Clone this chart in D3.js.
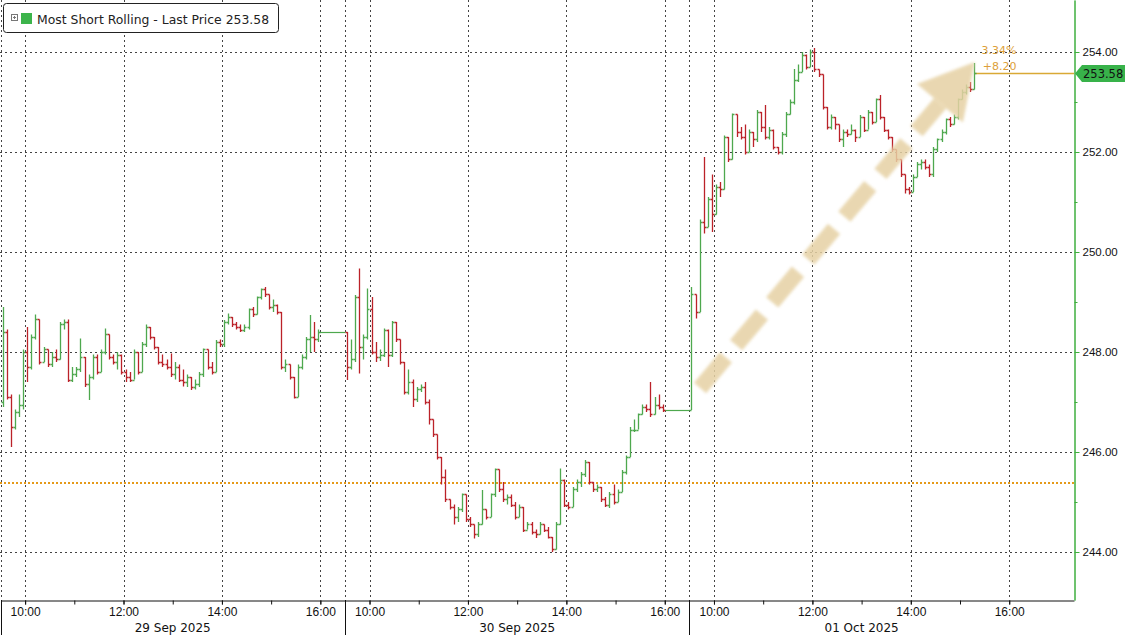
<!DOCTYPE html>
<html>
<head>
<meta charset="utf-8">
<script src="https://cdn.jsdelivr.net/npm/d3@7"></script>
<style>
  body { margin: 0; background: #fff; }
  svg { display: block; font-family: "DejaVu Sans", Verdana, sans-serif; }
</style>
</head>
<body>
<div id="chart"></div>
<script>
// ---- data (5 minute bars, open = previous close) ----
const sessionDates = ["29 Sep 2025", "30 Sep 2025", "01 Oct 2025"];
const hourLabels = ["10:00", "12:00", "14:00", "16:00"];
const priceTicks = [244, 246, 248, 250, 252, 254];
const minorPriceTicks = [245, 247, 249, 251, 253];
const seriesName = "Most Short Rolling - Last Price";
const lastPrice = 253.58;
const refPrice = 245.38;
const changePct = "3.34%";
const changeAbs = "+8.20";
const sessionOpen = [247.00, 248.40, 246.84];

const close29 = [248.40, 247.10, 246.50, 246.80, 246.95, 248.00, 247.70, 248.30, 248.65, 247.80,
  248.05, 247.75, 247.90, 247.85, 248.55, 248.60, 247.45, 247.55, 247.65, 247.90,
  247.35, 247.50, 247.90, 247.60, 248.00, 248.35, 247.90, 247.80, 247.95, 247.60,
  247.50, 247.45, 248.00, 247.60, 248.15, 248.50, 248.30, 248.10, 247.80, 247.75,
  247.70, 247.55, 247.70, 247.45, 247.40, 247.50, 247.30, 247.35, 247.55, 248.05,
  247.70, 247.60, 248.20, 248.15, 248.60, 248.70, 248.55, 248.50, 248.45, 248.50,
  248.85, 248.75, 249.10, 249.25, 249.15, 248.90, 248.95, 248.80, 247.70, 247.75,
  247.50, 247.10, 247.70, 247.90, 248.25, 248.30, 248.25, 248.40];
const high29 = [248.90, 248.45, 247.15, 246.85, 247.15, 248.05, 248.50, 248.35, 248.75, 248.65,
  248.10, 248.05, 248.00, 248.05, 248.60, 248.65, 248.65, 247.70, 247.70, 248.27,
  247.90, 247.55, 247.95, 247.95, 248.05, 248.47, 248.35, 247.95, 248.00, 247.95,
  247.65, 247.60, 248.05, 248.00, 248.20, 248.55, 248.50, 248.30, 248.10, 247.95,
  247.85, 247.97, 247.80, 247.75, 247.65, 247.55, 247.50, 247.45, 247.60, 248.07,
  248.05, 247.80, 248.24, 248.25, 248.64, 248.77, 248.70, 248.60, 248.55, 248.55,
  248.87, 248.90, 249.11, 249.27, 249.30, 249.15, 249.05, 248.95, 248.80, 247.85,
  247.75, 247.50, 247.75, 247.95, 248.30, 248.74, 248.60, 248.45];
const low29 = [246.90, 247.05, 246.10, 246.45, 246.70, 246.85, 247.40, 247.65, 248.25, 247.75,
  247.80, 247.70, 247.70, 247.80, 247.85, 248.45, 247.40, 247.40, 247.50, 247.60,
  247.30, 247.04, 247.45, 247.55, 247.60, 247.95, 247.85, 247.75, 247.65, 247.55,
  247.40, 247.40, 247.45, 247.55, 247.60, 248.10, 248.25, 248.05, 247.75, 247.70,
  247.65, 247.50, 247.45, 247.40, 247.31, 247.30, 247.24, 247.25, 247.30, 247.50,
  247.65, 247.55, 247.60, 248.10, 248.10, 248.55, 248.50, 248.45, 248.40, 248.40,
  248.45, 248.70, 248.75, 249.05, 249.10, 248.85, 248.80, 248.75, 247.65, 247.60,
  247.45, 247.07, 247.10, 247.65, 247.85, 248.00, 248.00, 248.20];

const close30 = [247.70, 247.85, 249.10, 248.10, 248.30, 248.85, 248.00, 247.90, 247.95, 248.45,
  247.95, 248.60, 248.25, 247.80, 247.20, 247.40, 247.05, 247.25, 247.30, 247.00,
  246.65, 246.35, 245.90, 245.50, 245.05, 244.90, 244.70, 244.85, 245.15, 244.65,
  244.55, 244.35, 244.55, 244.85, 244.70, 245.15, 245.65, 245.25, 245.05, 245.10,
  244.95, 244.70, 244.90, 244.45, 244.55, 244.40, 244.35, 244.55, 244.45, 244.30,
  244.05, 244.55, 245.45, 244.95, 244.90, 245.25, 245.40, 245.55, 245.80, 245.40,
  245.25, 245.30, 245.05, 244.95, 245.15, 245.00, 245.20, 245.60, 245.90, 246.45,
  246.45, 246.75, 246.90, 246.85, 246.75, 246.95, 246.90, 246.84];
const high30 = [248.40, 248.25, 249.14, 249.67, 248.35, 249.27, 249.10, 248.20, 248.05, 248.47,
  248.45, 248.62, 248.60, 248.25, 247.80, 247.65, 247.45, 247.30, 247.35, 247.40,
  247.05, 246.65, 246.35, 245.90, 245.65, 245.05, 244.95, 244.90, 245.17, 245.15,
  244.70, 244.55, 244.60, 245.24, 244.85, 245.17, 245.67, 245.65, 245.40, 245.15,
  245.15, 245.00, 244.95, 244.90, 244.60, 244.60, 244.45, 244.60, 244.55, 244.50,
  244.30, 244.60, 245.67, 245.45, 245.00, 245.30, 245.45, 245.60, 245.84, 245.80,
  245.40, 245.35, 245.30, 245.10, 245.20, 245.35, 245.25, 245.64, 245.93, 246.50,
  246.65, 246.77, 246.95, 246.95, 247.40, 247.10, 247.15, 246.95];
const low30 = [247.44, 247.65, 247.80, 247.57, 247.85, 248.25, 247.95, 247.80, 247.82, 247.90,
  247.70, 247.90, 248.20, 247.75, 247.15, 247.15, 246.90, 247.00, 247.20, 246.95,
  246.55, 246.30, 245.85, 245.35, 245.00, 244.85, 244.55, 244.60, 244.80, 244.60,
  244.50, 244.27, 244.30, 244.55, 244.65, 244.70, 245.10, 245.20, 245.00, 244.95,
  244.90, 244.65, 244.70, 244.40, 244.45, 244.35, 244.28, 244.35, 244.40, 244.27,
  244.00, 244.05, 244.55, 244.90, 244.85, 244.90, 245.20, 245.30, 245.50, 245.35,
  245.20, 245.20, 245.00, 244.90, 244.88, 244.95, 245.00, 245.20, 245.55, 245.90,
  246.40, 246.45, 246.75, 246.80, 246.70, 246.75, 246.85, 246.80];

const close01 = [249.15, 248.80, 250.60, 250.50, 251.05, 250.75, 251.30, 251.25, 252.30, 251.85,
  252.75, 252.40, 252.30, 252.00, 252.40, 252.25, 252.80, 252.50, 252.30, 252.45,
  252.10, 252.00, 252.35, 252.75, 253.00, 253.45, 253.60, 253.95, 253.70, 254.00,
  253.65, 253.55, 252.90, 252.50, 252.70, 252.55, 252.25, 252.40, 252.35, 252.45,
  252.30, 252.70, 252.45, 252.80, 252.60, 253.05, 252.70, 252.45, 252.30, 252.05,
  251.85, 251.55, 251.25, 251.20, 251.50, 251.75, 251.80, 251.70, 251.55, 252.05,
  252.25, 252.40, 252.65, 252.55, 252.70, 253.05, 253.20, 253.30, 253.25, 253.58];
const high01 = [249.30, 249.15, 250.65, 251.90, 251.10, 251.55, 251.35, 251.40, 252.33, 252.30,
  252.77, 252.75, 252.50, 252.55, 252.45, 252.40, 252.84, 252.80, 252.94, 252.50,
  252.45, 252.10, 252.40, 252.80, 253.05, 253.66, 253.75, 254.00, 253.95, 254.05,
  254.08, 253.65, 253.55, 252.90, 252.75, 252.70, 252.55, 252.45, 252.45, 252.55,
  252.45, 252.74, 252.70, 252.84, 252.80, 253.07, 253.14, 252.70, 252.45, 252.30,
  252.05, 251.85, 251.55, 251.30, 251.55, 251.80, 251.85, 251.85, 251.75, 252.10,
  252.27, 252.45, 252.67, 252.70, 252.75, 253.07, 253.25, 253.35, 253.40, 253.78];
const low01 = [246.84, 248.67, 248.80, 250.37, 250.50, 250.40, 250.75, 251.10, 251.25, 251.80,
  251.85, 252.30, 252.25, 251.95, 252.00, 252.10, 252.20, 252.40, 252.25, 252.25,
  252.05, 251.95, 251.95, 252.30, 252.75, 252.95, 253.40, 253.60, 253.65, 253.70,
  253.60, 253.50, 252.85, 252.45, 252.45, 252.45, 252.20, 252.10, 252.30, 252.35,
  252.20, 252.30, 252.40, 252.45, 252.55, 252.60, 252.65, 252.40, 252.25, 252.00,
  251.80, 251.50, 251.17, 251.15, 251.20, 251.50, 251.65, 251.65, 251.50, 251.50,
  252.00, 252.20, 252.35, 252.50, 252.55, 252.65, 253.05, 253.15, 253.20, 253.25];

// ---- layout ----
const width = 1125, height = 635;
const plotRight = 1074, plotBottom = 600;
const SESSION_MIN = 420;      // axis shows 09:30 - 16:30 for each day
const LAST_SESSION_MIN = 469; // last day runs on to the right edge
const BAR_MIN = 5;
const green = "#4ea84e", red = "#bb2229";

const sessions = [
  { close: close29, high: high29, low: low29 },
  { close: close30, high: high30, low: low30 },
  { close: close01, high: high01, low: low01 }
];

const bars = sessions.flatMap((s, si) => s.close.map((c, i) => ({
  session: si,
  t: si * SESSION_MIN + i * BAR_MIN + BAR_MIN / 2,
  o: i ? s.close[i - 1] : sessionOpen[si],
  h: s.high[i],
  l: s.low[i],
  c
})));

const x = d3.scaleLinear()
  .domain([0, 2 * SESSION_MIN + LAST_SESSION_MIN])
  .range([0.5, plotRight]);

const y = d3.scaleLinear()
  .domain([243.04, 255.04])
  .range([plotBottom, 0]);

const px = v => Math.round(x(v)) + 0.5;
const py = v => Math.round(y(v)) + 0.5;

const svg = d3.select("#chart").append("svg")
  .attr("width", width)
  .attr("height", height);

// grid
const gridMinutes = sessionDates.flatMap((d, si) => [0, 30, 150, 270, 390].map(m => si * SESSION_MIN + m));

svg.append("g")
  .selectAll("line")
  .data(priceTicks)
  .join("line")
  .attr("x1", 0).attr("x2", plotRight)
  .attr("y1", d => py(d)).attr("y2", d => py(d))
  .attr("stroke", "#444")
  .attr("stroke-dasharray", "2,3");

svg.append("g")
  .selectAll("line")
  .data(gridMinutes)
  .join("line")
  .attr("x1", d => px(d)).attr("x2", d => px(d))
  .attr("y1", 0).attr("y2", plotBottom)
  .attr("stroke", "#444")
  .attr("stroke-dasharray", "2,3");

// reference line (price 8.20 below last)
svg.append("line")
  .attr("x1", 0).attr("x2", plotRight)
  .attr("y1", y(refPrice)).attr("y2", y(refPrice))
  .attr("stroke", "#e59a1a")
  .attr("stroke-width", 2)
  .attr("stroke-dasharray", "2,2");

// flat lines after the close on the finished days
const lastBars = sessionDates.map((d, si) => bars.filter(b => b.session === si).pop());

svg.append("g")
  .selectAll("line")
  .data(lastBars.slice(0, 2))
  .join("line")
  .attr("x1", d => px(d.t)).attr("x2", d => px((d.session + 1) * SESSION_MIN))
  .attr("y1", d => py(d.c)).attr("y2", d => py(d.c))
  .attr("stroke", green)
  .attr("stroke-width", 1.2);

// last price line
const last = lastBars[2];
svg.append("line")
  .attr("x1", px(last.t)).attr("x2", plotRight)
  .attr("y1", py(lastPrice)).attr("y2", py(lastPrice))
  .attr("stroke", "#d9a935")
  .attr("stroke-width", 1.3);

// OHLC bars
svg.append("g")
  .selectAll("path")
  .data(bars)
  .join("path")
  .attr("d", d => {
    const cx = px(d.t);
    return `M${cx},${y(d.h)}V${y(d.l)}M${cx - 2},${py(d.o)}H${cx}M${cx},${py(d.c)}H${cx + 2}`;
  })
  .attr("fill", "none")
  .attr("stroke", d => d.c >= d.o ? green : red)
  .attr("stroke-width", 1.3);

// dashed trend arrow
const arrowFrom = [853, 247.28], arrowTo = [1188, 253.80];
const a0 = [x(arrowFrom[0]), y(arrowFrom[1])], a1 = [x(arrowTo[0]), y(arrowTo[1])];
const alen = Math.hypot(a1[0] - a0[0], a1[1] - a0[1]);
const ux = (a1[0] - a0[0]) / alen, uy = (a1[1] - a0[1]) / alen;
const headLen = 54, headHalf = 30;
const base = [a1[0] - ux * headLen, a1[1] - uy * headLen];

const defs = svg.append("defs");
defs.append("filter").attr("id", "soft")
  .append("feGaussianBlur").attr("stdDeviation", 1.6);

const arrow = svg.append("g")
  .attr("filter", "url(#soft)")
  .attr("opacity", 0.85);

arrow.append("line")
  .attr("x1", a0[0]).attr("y1", a0[1])
  .attr("x2", base[0]).attr("y2", base[1])
  .attr("stroke", "#e6d1a4")
  .attr("stroke-width", 16)
  .attr("stroke-dasharray", "40,16");

arrow.append("polygon")
  .attr("points", [
    a1,
    [base[0] + uy * headHalf, base[1] - ux * headHalf],
    [base[0] - uy * headHalf, base[1] + ux * headHalf]
  ].map(p => p.join(",")).join(" "))
  .attr("fill", "#e6d1a4");

// change annotation
svg.append("g")
  .attr("font-size", "11px")
  .attr("fill", "#dd9f3a")
  .attr("text-anchor", "end")
  .selectAll("text")
  .data([[changePct, -19], [changeAbs, -3]])
  .join("text")
  .attr("x", px(last.t) + 42)
  .attr("y", d => y(lastPrice) + d[1])
  .text(d => d[0]);

// bottom axis
const hourMinutes = sessionDates.flatMap((d, si) => [30, 90, 150, 210, 270, 330, 390].map(m => si * SESSION_MIN + m));
const labelMinutes = sessionDates.flatMap((d, si) => [30, 150, 270, 390].map(m => si * SESSION_MIN + m));

const xAxisG = svg.append("g")
  .attr("transform", `translate(0,${plotBottom + 0.5})`);

xAxisG.append("g")
  .call(d3.axisBottom(x).tickValues(hourMinutes).tickSize(4).tickSizeOuter(0).tickFormat(""));

xAxisG.append("g")
  .call(d3.axisBottom(x).tickValues(labelMinutes).tickSize(4).tickSizeOuter(0)
    .tickFormat((d, i) => hourLabels[i % 4]))
  .call(g => g.select(".domain").remove())
  .selectAll("text")
  .style("font-size", "12px")
  .attr("fill", "#111");

xAxisG.selectAll(".domain, .tick line").attr("stroke", "#111");

svg.append("g")
  .selectAll("line")
  .data(sessionDates)
  .join("line")
  .attr("x1", (d, i) => px(i * SESSION_MIN)).attr("x2", (d, i) => px(i * SESSION_MIN))
  .attr("y1", plotBottom).attr("y2", height)
  .attr("stroke", "#111");

svg.append("g")
  .selectAll("text")
  .data(sessionDates)
  .join("text")
  .attr("x", (d, i) => x(i * SESSION_MIN + SESSION_MIN / 2))
  .attr("y", 632)
  .attr("text-anchor", "middle")
  .style("font-size", "12px")
  .attr("fill", "#111")
  .text(d => d);

// right axis
const yAxisG = svg.append("g")
  .attr("transform", `translate(${plotRight + 0.5},0)`);

yAxisG.append("g")
  .call(d3.axisRight(y).tickValues(minorPriceTicks).tickSize(3).tickSizeOuter(0).tickFormat(""));

yAxisG.append("g")
  .call(d3.axisRight(y).tickValues(priceTicks).tickSize(5).tickSizeOuter(0).tickFormat(d3.format(".2f")))
  .selectAll("text")
  .style("font-size", "11.5px")
  .attr("fill", "#111");

yAxisG.selectAll(".domain").attr("stroke", "#3fae3f");
yAxisG.selectAll(".tick line").attr("stroke", "#3fae3f");

// last price tag
const ty = py(lastPrice);
svg.append("polygon")
  .attr("points", [[plotRight + 1, ty], [plotRight + 8, ty - 8.5], [width, ty - 8.5], [width, ty + 8.5], [plotRight + 8, ty + 8.5]]
    .map(p => p.join(",")).join(" "))
  .attr("fill", "#38b24a");

svg.append("text")
  .attr("x", plotRight + 9)
  .attr("y", ty + 4.5)
  .style("font-size", "11.5px")
  .attr("fill", "#111")
  .text(d3.format(".2f")(lastPrice));

// legend
const legend = svg.append("g");
legend.append("rect")
  .attr("x", 3.5).attr("y", 3.5)
  .attr("width", 275).attr("height", 29)
  .attr("rx", 3)
  .attr("fill", "#fff")
  .attr("stroke", "#222");

legend.append("rect")
  .attr("x", 11.5).attr("y", 14.5)
  .attr("width", 6).attr("height", 6)
  .attr("fill", "none")
  .attr("stroke", "#777");

legend.append("path")
  .attr("d", "M13,17.5H16M14.5,16V19")
  .attr("stroke", "#777");

legend.append("rect")
  .attr("x", 21).attr("y", 13)
  .attr("width", 11).attr("height", 11)
  .attr("fill", "#3cb44b");

legend.append("text")
  .attr("x", 37).attr("y", 24)
  .style("font-size", "12.4px")
  .attr("fill", "#222")
  .text(`${seriesName} ${d3.format(".2f")(lastPrice)}`);
</script>
</body>
</html>
